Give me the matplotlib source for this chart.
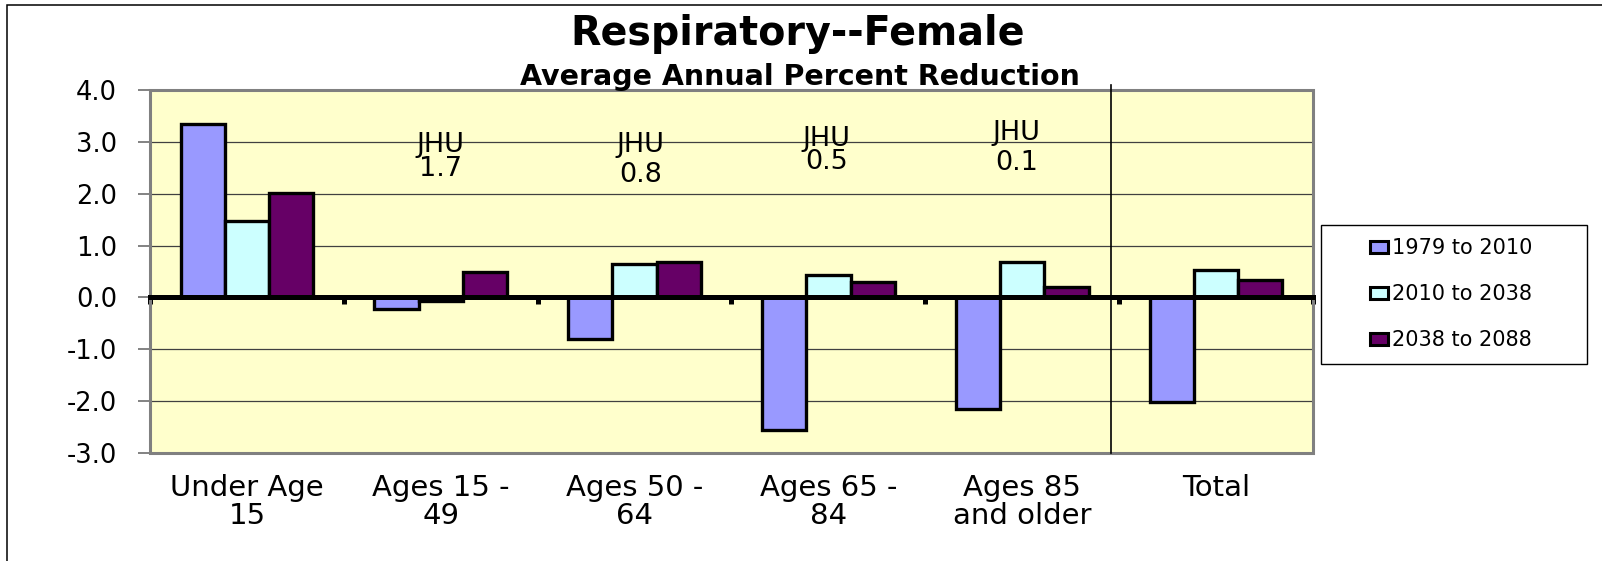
import matplotlib
matplotlib.use("Agg")
import matplotlib.pyplot as plt
from matplotlib.patches import Patch, Rectangle
import numpy as np

plt.rcParams['font.family'] = ['DejaVu Sans']
plt.rcParams['axes.unicode_minus'] = False

# ---------------- data ----------------
title = "Respiratory--Female"
subtitle = "Average Annual Percent Reduction"
categories = ["Under Age\n15", "Ages 15 -\n49", "Ages 50 -\n64",
              "Ages 65 -\n84", "Ages 85\nand older", "Total"]
series_names = ["1979 to 2010", "2010 to 2038", "2038 to 2088"]
s1979_2010 = [3.35, -0.22, -0.81, -2.56, -2.15, -2.02]
s2010_2038 = [1.47, -0.06, 0.64, 0.44, 0.68, 0.53]
s2038_2088 = [2.02, 0.50, 0.69, 0.30, 0.21, 0.33]
jhu_header = "JHU"
jhu_values = ["1.7", "0.8", "0.5", "0.1"]
yticks = [-3.0, -2.0, -1.0, 0.0, 1.0, 2.0, 3.0, 4.0]

# ---------------- style / layout ----------------
colors = ["#9999FF", "#CCFFFF", "#660066"]
W, H = 1602, 561
fig = plt.figure(figsize=(W / 100, H / 100), dpi=100)

left, right, top, bottom = 150, 1313, 90, 453
ax = fig.add_axes([left / W, 1 - bottom / H, (right - left) / W, (bottom - top) / H])
ax.set_facecolor("#FFFFCC")
ax.set_xlim(-0.5, len(categories) - 0.5)
ax.set_ylim(yticks[0], yticks[-1])

x = np.arange(len(categories))
bw = 0.228
for k, (vals, col) in enumerate(zip([s1979_2010, s2010_2038, s2038_2088], colors)):
    ax.bar(x + (k - 1) * bw, vals, bw, color=col, edgecolor="black",
           linewidth=2.4, zorder=2)

# grid & y axis
ax.set_yticks(yticks)
ax.set_yticklabels([f"{v:.1f}" for v in yticks])
ax.yaxis.grid(True, color="#404040", linewidth=0.9)
ax.set_axisbelow(True)
ax.tick_params(axis="y", direction="out", length=8.6, width=1.1,
               color="#606060", pad=15, labelsize=18.5)

# spines: bottom spine = zero line
for s in ["left", "top", "right"]:
    ax.spines[s].set_visible(False)
ax.spines["bottom"].set_position(("data", 0))
ax.spines["bottom"].set_color("black")
ax.spines["bottom"].set_linewidth(3.6)
ax.set_xticks(np.arange(len(categories) + 1) - 0.5)
ax.set_xticklabels([])
ax.tick_params(axis="x", direction="out", length=5, width=3.6, color="black")

# plot-area frame
ax.add_patch(Rectangle((0, 0), 1, 1, transform=ax.transAxes, fill=False,
                       edgecolor="#808080", linewidth=2.2, zorder=2.4, clip_on=False))

# category labels
for i, c in enumerate(categories):
    ax.text(i, -0.058, c, transform=ax.get_xaxis_transform(), ha="center",
            va="top", fontsize=21, linespacing=1.0)

# divider between age groups and total
ax.plot([4.46, 4.46], [yticks[0], 4.10], color="black", linewidth=1.2,
        clip_on=False, zorder=2.6)

# JHU annotations
jhu_x = [1.0, 2.03, 2.99, 3.97]
jhu_head_y = [2.80, 2.80, 2.92, 3.03]
jhu_val_y = [2.345, 2.22, 2.48, 2.46]
for xx, hy, vy, v in zip(jhu_x, jhu_head_y, jhu_val_y, jhu_values):
    ax.text(xx, hy, jhu_header, ha="center", va="baseline", fontsize=19.5, zorder=3)
    ax.text(xx, vy, v, ha="center", va="baseline", fontsize=19.5, zorder=3)

# titles
fig.text(797.5 / W, 1 - 45 / H, title, ha="center", va="baseline",
         fontsize=28.5, fontweight="bold")
fig.text(799.5 / W, 1 - 85 / H, subtitle, ha="center", va="baseline",
         fontsize=20.5, fontweight="bold")

# legend
lx0, lx1, ly0, ly1 = 1320.7, 1586.7, 224.8, 364
fig.add_artist(Rectangle((lx0 / W, 1 - ly1 / H), (lx1 - lx0) / W, (ly1 - ly0) / H,
                         transform=fig.transFigure, facecolor="white",
                         edgecolor="black", linewidth=1.0))
handles = [Patch(facecolor=c, edgecolor="black", linewidth=2.2) for c in colors]
fig.legend(handles, series_names, loc="center",
           bbox_to_anchor=(1451 / W, 1 - 294.4 / H), frameon=False, fontsize=15,
           handlelength=0.85, handleheight=0.55, handletextpad=0.18,
           labelspacing=1.25)

# outer chart border
fig.add_artist(Rectangle((7 / W, -0.1), 1.2, 1 - 5 / H + 0.1,
                         transform=fig.transFigure, fill=False,
                         edgecolor="black", linewidth=1.1))

fig.savefig("out.png", dpi=100)
